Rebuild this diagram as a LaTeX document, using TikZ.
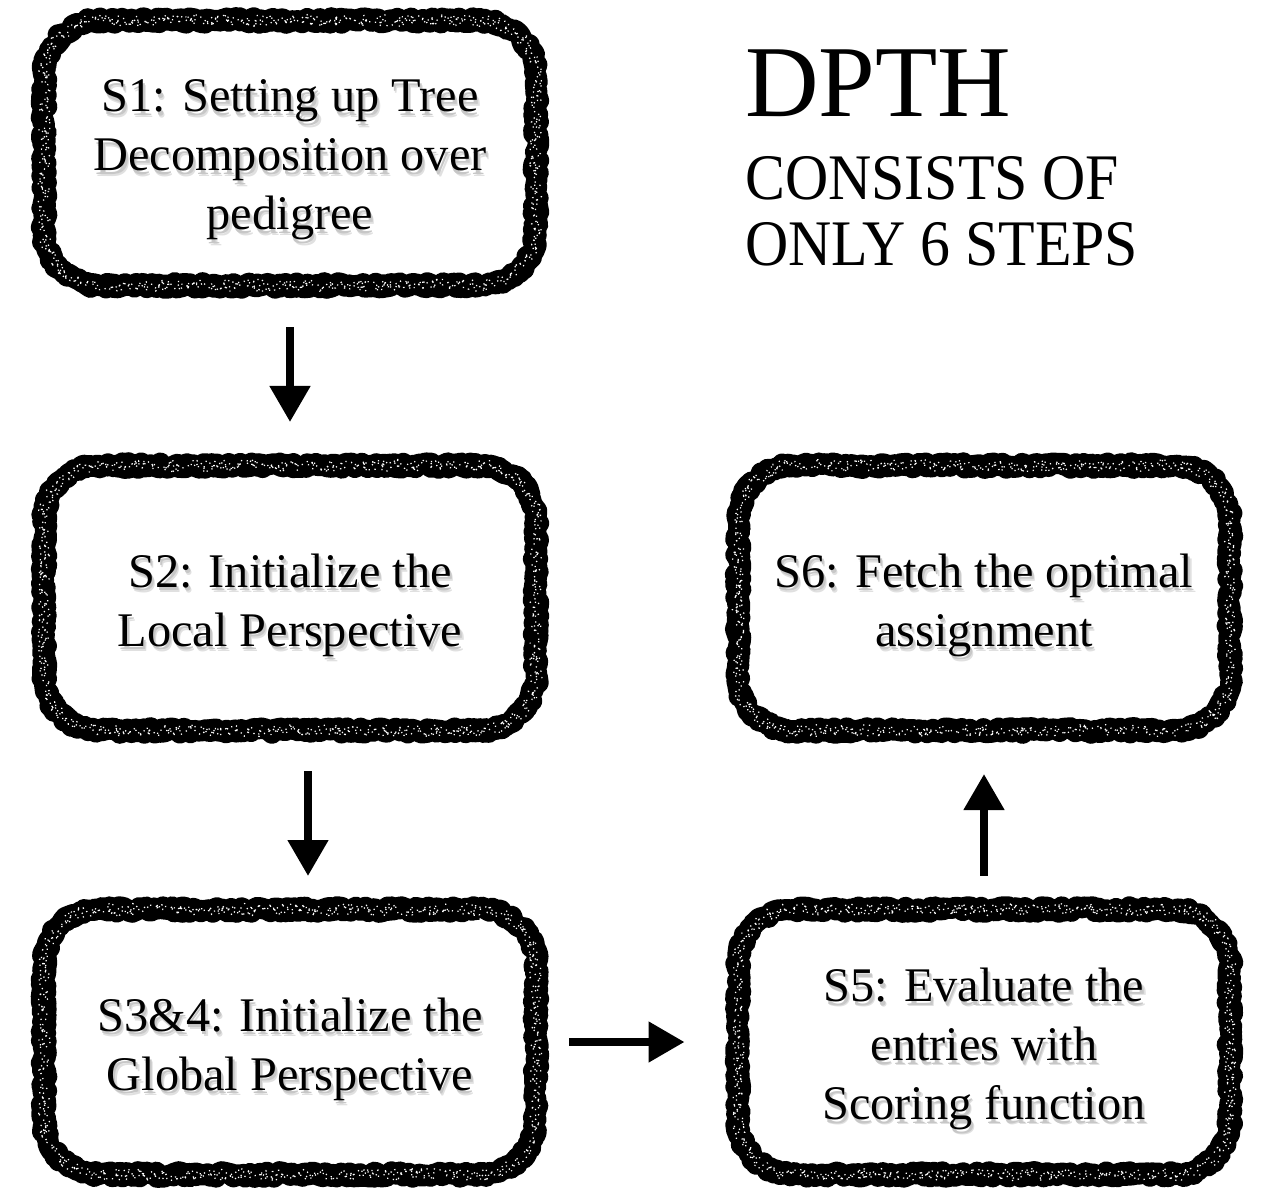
\documentclass[tikz,border=0pt]{standalone}
\usepackage{fontspec}
\setmainfont{Liberation Serif}
\newfontfamily\narrowserif[FakeStretch=0.92]{Liberation Serif}
\usetikzlibrary{arrows.meta,decorations.pathmorphing}
% soft grey shadow under each line of text
\newcommand{\softline}[1]{\raisebox{-4pt}[\height][\depth]{\makebox[0pt][l]{\hspace{1.8pt}\raisebox{-3pt}[0pt][0pt]{\color{black!12}#1}}\makebox[0pt][l]{\hspace{1.1pt}\raisebox{-2pt}[0pt][0pt]{\color{black!22}#1}}#1}}
\begin{document}
\begin{tikzpicture}[x=0.02cm, y=-0.02cm,
        every node/.style={font=\fontsize{27.5}{33.6}\selectfont, align=center},
        stepbox/.style={rounded corners=1.1cm,
            minimum width=9.84cm, minimum height=5.3cm, inner sep=0pt, outer sep=6pt,
            postaction={draw, line width=12pt, sharp corners, line join=round,
                decorate, decoration={random steps, segment length=1.5pt, amplitude=1.6pt}},
            postaction={draw=white, line width=0.7pt, sharp corners, line join=round, dash pattern=on 0.7pt off 2.6pt,
                decorate, decoration={random steps, segment length=1pt, amplitude=3.5pt}}},
        flow/.style={-{Triangle[length=0.72cm, width=0.78cm]}, line width=4.5pt}]
            \useasboundingbox (0,0) rectangle (1274,1199);
            \def \lx {290}
            \def \rx {984}
            \def \ya {153}
            \def \yb {598}
            \def \yc {1042}
            \node[stepbox] (s1) at (\lx, \ya) {\softline{S1: Setting up Tree}\\ \softline{Decomposition over}\\ \softline{pedigree}};
            \node[stepbox] (s2) at (\lx, \yb) {\softline{S2: Initialize the}\\ \softline{Local Perspective}};
            \node[stepbox] (s3) at (\lx, \yc) {\softline{S3\&4: Initialize the}\\ \softline{Global Perspective}};
            \node[stepbox] (s5) at (\rx, \yc) {\softline{S5: Evaluate the}\\ \softline{entries with}\\ \softline{Scoring function}};
            \node[stepbox] (s6) at (\rx, \yb) {\softline{S6: Fetch the optimal}\\ \softline{assignment}};
            \node[anchor=base west, inner sep=0pt, font=\fontsize{58}{58}\selectfont] (title) at (745, 117) {DPTH};
            \node[anchor=base west, inner sep=0pt, align=left, font=\narrowserif\fontsize{37}{38}\selectfont] (steps) at (745, 266) {CONSISTS OF\\ONLY 6 STEPS};
            \draw[flow, shorten <=0.62cm, shorten >=0.66cm] (s1) -- (s2);
            \draw[flow, shorten <=0.6cm, shorten >=0.46cm] ([xshift=0.36cm]s2.south) -- ([xshift=0.36cm]s3.north);
            \draw[flow, shorten <=0.46cm, shorten >=0.86cm] (s3) -- (s5);
            \draw[flow, shorten <=0.46cm, shorten >=0.66cm] (s5) -- (s6);
        \end{tikzpicture}
\end{document}
